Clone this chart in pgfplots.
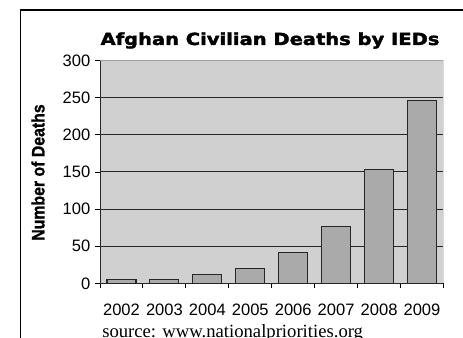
\documentclass[border=0pt]{standalone}
\usepackage{graphicx}
\usepackage{pgfplots}
\pgfplotsset{compat=1.18}
\usepackage{fontspec}
\setmainfont{Liberation Sans}
\newfontfamily\titlefont{DejaVu Sans}[BoldFeatures={FakeBold=2}]
\newfontfamily\labelfont{Liberation Sans}[BoldFeatures={FakeBold=1.2}]
\newfontfamily\serifsrc{Liberation Serif}
\definecolor{plotbg}{RGB}{208,208,208}
\definecolor{barfill}{RGB}{170,170,170}
\begin{document}
\begin{tikzpicture}
\useasboundingbox (0,0) rectangle (347.25pt,253.5pt);
\clip (0,0) rectangle (347.25pt,253.5pt);
\draw[line width=1.1pt] (15.5pt,-2pt) -- (15.5pt,246pt) -- (350pt,246pt);
\begin{axis}[
  at={(75pt,41pt)}, anchor=south west,
  scale only axis, width=257.6pt, height=167pt,
  xmin=-0.5, xmax=7.5, ymin=0, ymax=300,
  ybar, bar width=21.75pt,
  ytick={0,50,...,300},
  xtick={0,...,7},
  xticklabels={2002,2003,2004,2005,2006,2007,2008,2009},
  minor xtick={-0.5,0.5,...,7.5},
  xtick pos=bottom, ytick pos=left,
  tick align=outside,
  major tick length=3.75pt, minor tick length=3.75pt,
  major x tick style={draw=none},
  tick style={black, line width=0.7pt},
  axis line style={draw=none},
  axis background/.style={fill=plotbg},
  ymajorgrids, grid style={black!85, line width=0.75pt},
  tick label style={font=\fontsize{12.4}{14}\selectfont},
  xticklabel style={yshift=-8.4pt},
  /pgf/number format/assume math mode=true,
]
\addplot[fill=barfill, draw=black!85, line width=0.8pt] coordinates {(0,5) (1,5) (2,12) (3,20) (4,41) (5,77) (6,153) (7,246)};
\draw[gray!75, line width=0.9pt] (rel axis cs:0,1) -- (rel axis cs:1,1) -- (rel axis cs:1,0);
\draw[black!85, line width=0.9pt] (rel axis cs:0,1) -- (rel axis cs:0,0) -- (rel axis cs:1,0);
\end{axis}
\node[anchor=base] at (202.5pt,219.75pt) {\scalebox{1.17}[1]{\titlefont\bfseries\fontsize{12.5}{15}\selectfont Afghan Civilian Deaths by IEDs}};
\node[rotate=90] at (28.5pt,124.1pt) {\scalebox{0.88}[1]{\labelfont\bfseries\fontsize{13.5}{16}\selectfont Number of Deaths}};
\node[anchor=base west, inner sep=0pt] at (76.5pt,0.2pt) {\serifsrc\fontsize{14}{16}\selectfont source: www.nationalpriorities.org};
\end{tikzpicture}
\end{document}
